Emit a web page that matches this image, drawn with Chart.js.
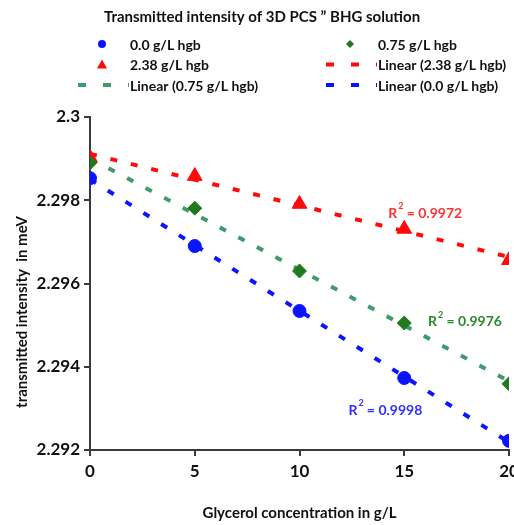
<!DOCTYPE html>
<html>
<head>
<meta charset="utf-8">
<script src="https://cdn.jsdelivr.net/npm/chart.js@4.4.1/dist/chart.umd.min.js"></script>
<style>
  html, body { margin: 0; padding: 0; background: #fff; overflow: hidden; }
  #wrap { width: 514px; height: 525px; overflow: hidden; position: relative; }
  #box { width: 540px; height: 525px; }
</style>
</head>
<body>
<div id="wrap"><div id="box"><canvas id="chart"></canvas></div></div>
<script>
// ---- data ----
const glycerol = [0, 5, 10, 15, 20];
const hgb000 = [2.29853, 2.29690, 2.29534, 2.29373, 2.29222];
const hgb075 = [2.29890, 2.29781, 2.29630, 2.29505, 2.29359];
const hgb238 = [2.29902, 2.29858, 2.29791, 2.29731, 2.29656];
const yTicks = [2.292, 2.294, 2.296, 2.298, 2.3];
const xTicks = [0, 5, 10, 15, 20];
const r2Text = ['0.9998', '0.9976', '0.9972'];
// where the R² labels sit, in data units
const r2Pos = [[14.1, 2.29296], [17.9, 2.29508], [16.0, 2.29769]];

const BLUE = '#0a14ff';
const GREEN = '#1f7a1f';
const GREEN_LINE = '#3f9a6c';
const RED = '#ff0a0a';
const FONT = 'Lato, "Open Sans", sans-serif';

// least squares fit, same as the Excel trendline
function fit(xs, ys) {
    const n = xs.length;
    const mx = xs.reduce((a, b) => a + b, 0) / n;
    const my = ys.reduce((a, b) => a + b, 0) / n;
    let sxy = 0, sxx = 0;
    for (let i = 0; i < n; i++) {
        sxy += (xs[i] - mx) * (ys[i] - my);
        sxx += (xs[i] - mx) * (xs[i] - mx);
    }
    const m = sxy / sxx;
    const b = my - m * mx;
    const x0 = xs[0], x1 = xs[n - 1];
    return [{ x: x0, y: m * x0 + b }, { x: x1, y: m * x1 + b }];
}

const pts = ys => glycerol.map((x, i) => ({ x: x, y: ys[i] }));

function trend(ys, color) {
    return {
        type: 'line', data: fit(glycerol, ys), borderColor: color, borderWidth: 4,
        borderDash: [7, 14], pointRadius: 0, fill: false
    };
}

// legend: two columns, three rows
const legendItems = [
    { text: '0.0 g/L hgb', kind: 'circle', color: BLUE, col: 0, row: 0 },
    { text: '0.75 g/L hgb', kind: 'diamond', color: GREEN, col: 1, row: 0 },
    { text: '2.38 g/L hgb', kind: 'triangle', color: RED, col: 0, row: 1 },
    { text: 'Linear (2.38 g/L hgb)', kind: 'dash', color: RED, col: 1, row: 1 },
    { text: 'Linear (0.75 g/L hgb)', kind: 'dash', color: GREEN_LINE, col: 0, row: 2 },
    { text: 'Linear (0.0 g/L hgb)', kind: 'dash', color: BLUE, col: 1, row: 2 }
];

const decorPlugin = {
    id: 'decor',
    afterDraw(chart) {
        const ctx = chart.ctx;
        const area = chart.chartArea;
        const xs = chart.scales.x, ys = chart.scales.y;
        ctx.save();
        ctx.fillStyle = '#111';
        ctx.textBaseline = 'middle';

        // title
        ctx.textAlign = 'center';
        ctx.font = 'bold 15px ' + FONT;
        ctx.fillText('Transmitted intensity of 3D PCS \u201D BHG solution', 262, 17);

        // legend
        ctx.textAlign = 'left';
        ctx.font = 'bold 14px ' + FONT;
        legendItems.forEach(it => {
            const mx = it.col === 0 ? 102 : 350;
            const tx = it.col === 0 ? 130 : 378;
            const y = 45 + it.row * 20.5;
            ctx.fillStyle = it.color;
            ctx.strokeStyle = it.color;
            if (it.kind === 'circle') {
                ctx.beginPath(); ctx.arc(mx, y - 1, 4, 0, Math.PI * 2); ctx.fill();
            } else if (it.kind === 'diamond') {
                ctx.beginPath();
                ctx.moveTo(mx, y - 5); ctx.lineTo(mx + 4, y - 1);
                ctx.lineTo(mx, y + 3); ctx.lineTo(mx - 4, y - 1);
                ctx.closePath(); ctx.fill();
            } else if (it.kind === 'triangle') {
                ctx.beginPath();
                ctx.moveTo(mx, y - 6); ctx.lineTo(mx + 5, y + 3); ctx.lineTo(mx - 5, y + 3);
                ctx.closePath(); ctx.fill();
            } else {
                ctx.lineWidth = 4;
                ctx.setLineDash([8, 17]);
                ctx.beginPath(); ctx.moveTo(mx - 24, y - 1); ctx.lineTo(mx + 27, y - 1); ctx.stroke();
                ctx.setLineDash([]);
            }
            ctx.fillStyle = '#111';
            ctx.fillText(it.text, tx, y);
        });

        // R² labels
        const r2Colors = ['#3030ff', '#2a8a2a', '#ff3333'];
        r2Pos.forEach((p, i) => {
            const px = xs.getPixelForValue(p[0]);
            const py = ys.getPixelForValue(p[1]);
            ctx.fillStyle = r2Colors[i];
            ctx.font = 'bold 14px ' + FONT;
            ctx.textAlign = 'left';
            const rest = ' = ' + r2Text[i];
            const wR = ctx.measureText('R').width;
            const wRest = ctx.measureText(rest).width;
            const w = wR + 6 + wRest;
            const x = px - w / 2;
            ctx.fillText('R', x, py);
            ctx.font = 'bold 9px ' + FONT;
            ctx.fillText('2', x + wR + 1, py - 7);
            ctx.font = 'bold 14px ' + FONT;
            ctx.fillText(rest, x + wR + 6, py);
        });

        // axis titles
        ctx.fillStyle = '#111';
        ctx.textAlign = 'center';
        ctx.font = 'bold 15px ' + FONT;
        ctx.fillText('Glycerol concentration in g/L', (area.left + area.right) / 2, 513);
        ctx.translate(22, 312);
        ctx.rotate(-Math.PI / 2);
        ctx.fillText('transmitted intensity  in meV', 0, 0);
        ctx.restore();
    }
};

new Chart(document.getElementById('chart'), {
    type: 'scatter',
    data: {
        datasets: [
            { label: '0.0 g/L hgb', data: pts(hgb000), backgroundColor: BLUE, borderColor: BLUE,
              pointStyle: 'circle', pointRadius: 6.5, pointHoverRadius: 6.5 },
            { label: '0.75 g/L hgb', data: pts(hgb075), backgroundColor: GREEN, borderColor: GREEN,
              pointStyle: 'rectRot', pointRadius: 7, pointHoverRadius: 7 },
            { label: '2.38 g/L hgb', data: pts(hgb238), backgroundColor: RED, borderColor: RED,
              pointStyle: 'triangle', pointRadius: 8.5, pointHoverRadius: 8.5 },
            Object.assign({ label: 'Linear (2.38 g/L hgb)' }, trend(hgb238, RED)),
            Object.assign({ label: 'Linear (0.75 g/L hgb)' }, trend(hgb075, GREEN_LINE)),
            Object.assign({ label: 'Linear (0.0 g/L hgb)' }, trend(hgb000, BLUE))
        ]
    },
    options: {
        responsive: true,
        maintainAspectRatio: false,
        animation: false,
        layout: { padding: { top: 117, right: 31, bottom: 0, left: 0 } },
        plugins: { legend: { display: false }, tooltip: { enabled: false } },
        scales: {
            x: {
                type: 'linear', min: 0, max: 20,
                afterBuildTicks: s => { s.ticks = xTicks.map(v => ({ value: v })); },
                afterFit: s => { s.height = 75; },
                border: { color: '#3a3a3a', width: 2 },
                grid: { drawOnChartArea: false, drawTicks: true, tickLength: 6, color: '#3a3a3a', lineWidth: 2 },
                ticks: { color: '#111', font: { family: FONT, size: 17, weight: 'bold' }, padding: 5 }
            },
            y: {
                type: 'linear', min: 2.292, max: 2.3,
                afterBuildTicks: s => { s.ticks = yTicks.map(v => ({ value: v })); },
                afterFit: s => { s.width = 90; },
                border: { color: '#3a3a3a', width: 2 },
                grid: { drawOnChartArea: false, drawTicks: true, tickLength: 6, color: '#3a3a3a', lineWidth: 2 },
                ticks: {
                    color: '#111', font: { family: FONT, size: 17, weight: 'bold' }, padding: 4,
                    callback: v => String(parseFloat(v.toFixed(3)))
                }
            }
        }
    },
    plugins: [decorPlugin]
});
</script>
</body>
</html>
